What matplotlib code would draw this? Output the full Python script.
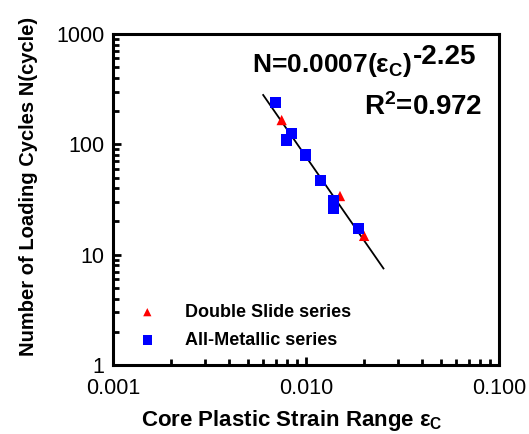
import matplotlib
matplotlib.use("Agg")
import matplotlib.pyplot as plt
from matplotlib.ticker import LogLocator, NullFormatter, FixedFormatter, FixedLocator

plt.rcParams['font.family'] = ['Liberation Sans', 'DejaVu Sans']
plt.rcParams['mathtext.fontset'] = 'custom'
plt.rcParams['mathtext.rm'] = 'Liberation Sans'
plt.rcParams['mathtext.bf'] = 'Liberation Sans:bold'
plt.rcParams['mathtext.it'] = 'Liberation Sans:italic'

# Data
double_slide_strain = [0.00748, 0.0150, 0.0200]
double_slide_cycles = [166, 34, 14.8]
all_metallic_strain = [0.00697, 0.00843, 0.00794, 0.00995, 0.0119, 0.01384, 0.01384, 0.01867]
all_metallic_cycles = [240, 126, 109, 80, 46.8, 30.6, 26.5, 17.3]
fit_strain = [0.0060, 0.0252]
fit_cycles = [280, 7.5]

x_ticks = [0.001, 0.01, 0.1]
x_ticklabels = ['0.001', '0.010', '0.100']
y_ticks = [1, 10, 100, 1000]
y_ticklabels = ['1', '10', '100', '1000']

W, H = 529, 434
fig = plt.figure(figsize=(W/100, H/100), dpi=100)
ax = fig.add_axes([113/W, 1-365/H, (499-113)/W, (365-34)/H])

ax.plot(fit_strain, fit_cycles, color='black', lw=1.3, zorder=2)
ax.scatter(double_slide_strain, double_slide_cycles, marker='^', s=55, color='red',
           edgecolors='none', zorder=3, label='Double Slide series')
ax.scatter(all_metallic_strain, all_metallic_cycles, marker='s', s=68, color='#0000ff',
           edgecolors='none', zorder=4, label='All-Metallic series')

ax.set_xscale('log')
ax.set_yscale('log')
ax.set_xlim(0.001, 0.1)
ax.set_ylim(1, 1000)

ax.xaxis.set_major_locator(FixedLocator(x_ticks))
ax.xaxis.set_major_formatter(FixedFormatter(x_ticklabels))
ax.yaxis.set_major_locator(FixedLocator(y_ticks))
ax.yaxis.set_major_formatter(FixedFormatter(y_ticklabels))
ax.xaxis.set_minor_locator(LogLocator(base=10, subs=range(2, 10)))
ax.yaxis.set_minor_locator(LogLocator(base=10, subs=range(2, 10)))
ax.xaxis.set_minor_formatter(NullFormatter())
ax.yaxis.set_minor_formatter(NullFormatter())

ax.tick_params(which='both', direction='in', top=False, right=False, width=2)
ax.tick_params(which='major', length=6, labelsize=15.5)
ax.tick_params(axis='y', which='major', pad=6)
ax.tick_params(axis='x', which='major', pad=9)
ax.tick_params(which='minor', length=4)
for s in ax.spines.values():
    s.set_linewidth(2.2)

ax.set_xlabel('Core Plastic Strain Range ε$_{\\mathbf{C}}$', fontsize=16, fontweight='bold', labelpad=7)
ax.xaxis.label.set_x(0.464)
ax.set_ylabel('Number of Loading Cycles N(cycle)', fontsize=14.5, fontweight='bold', labelpad=13)
ax.yaxis.label.set_y(0.54)

ax.text(0.775, 0.885, 'N=0.0007(ε$_{\\mathbf{C}}$)', transform=ax.transAxes,
        ha='right', va='baseline', fontsize=19, fontweight='bold')
ax.text(0.777, 0.908, '-2.25', transform=ax.transAxes,
        ha='left', va='baseline', fontsize=20, fontweight='bold')
ax.text(0.955, 0.778, 'R$^{\\mathbf{2}}$=0.972', transform=ax.transAxes,
        ha='right', va='center', fontsize=20, fontweight='bold')

ax.legend(loc='lower left', bbox_to_anchor=(0.0, 0.0), frameon=False,
          prop={'weight': 'bold', 'size': 13}, handletextpad=1.1, labelspacing=0.6,
          markerscale=0.8)

fig.savefig('out.png', dpi=100)
